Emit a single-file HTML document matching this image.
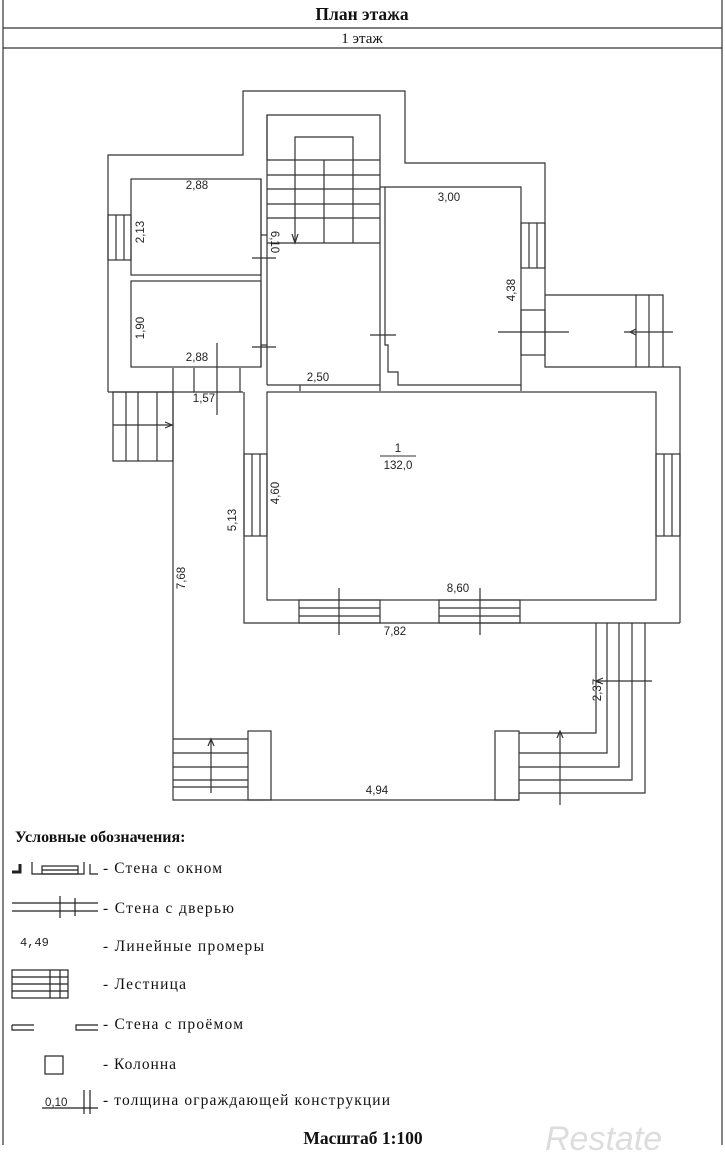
<!DOCTYPE html>
<html><head><meta charset="utf-8"><style>
html,body{margin:0;padding:0;background:#fff}
svg{display:block}
text{font-family:"Liberation Sans",sans-serif;font-size:11.5px;fill:#222}
.s{font-family:"Liberation Serif",serif;font-size:15.5px;fill:#111}
.b{font-weight:bold}
</style></head><body>
<svg width="725" height="1160" viewBox="0 0 725 1160" xmlns="http://www.w3.org/2000/svg">
<g stroke="#333" stroke-width="1.2" fill="none">
<line x1="3" y1="0" x2="3" y2="1145"/><line x1="722" y1="0" x2="722" y2="1145"/>
<line x1="3" y1="28" x2="722" y2="28"/><line x1="3" y1="48" x2="722" y2="48"/>
<polyline points="108,392 108,155 243,155 243,91 405,91 405,163 545,163 545,367 680,367 680,623"/>
<polyline points="545,295 663,295 663,367"/>
<line x1="636" y1="295" x2="636" y2="367"/><line x1="649" y1="295" x2="649" y2="367"/>
<line x1="108" y1="392" x2="243" y2="392"/>
<polyline points="244,392 244,623 596,623"/>
<line x1="596" y1="623" x2="680" y2="623"/>
<rect x="131" y="179" width="130" height="96"/>
<rect x="131" y="281" width="130" height="86"/>
<line x1="267" y1="115" x2="267" y2="385"/>
<line x1="261" y1="179" x2="261" y2="367"/>
<line x1="261" y1="235" x2="267" y2="235"/><line x1="261" y1="345" x2="267" y2="345"/>
<rect x="108" y="215" width="23" height="45"/>
<line x1="116" y1="215" x2="116" y2="260"/><line x1="124" y1="215" x2="124" y2="260"/>
<line x1="252" y1="258" x2="276" y2="258"/>
<line x1="252" y1="347" x2="276" y2="347"/>
<polyline points="267,160 267,115 380,115 380,385"/>
<polyline points="295,243 295,137 353,137 353,243"/>
<line x1="324" y1="160" x2="324" y2="243"/>
<line x1="267" y1="160" x2="380" y2="160"/><line x1="267" y1="175" x2="380" y2="175"/>
<line x1="267" y1="189" x2="380" y2="189"/><line x1="267" y1="204" x2="380" y2="204"/>
<line x1="267" y1="218" x2="380" y2="218"/><line x1="267" y1="243" x2="380" y2="243"/>
<polyline points="292,234 295,243 298,234"/>
<line x1="267" y1="385" x2="380" y2="385"/>
<line x1="300" y1="385" x2="300" y2="391"/>
<polyline points="385,187 521,187 521,385 398,385 398,372 388,372 388,345 385,345 385,187"/>
<line x1="380" y1="187" x2="385" y2="187"/>
<line x1="370" y1="335" x2="396" y2="335"/>
<rect x="521" y="223" width="24" height="45"/>
<line x1="529" y1="223" x2="529" y2="268"/><line x1="537" y1="223" x2="537" y2="268"/>
<rect x="521" y="310" width="24" height="45"/>
<line x1="498" y1="332" x2="569" y2="332"/>
<line x1="624" y1="332" x2="673" y2="332"/>
<polyline points="636,329 630,332 636,335"/>
<line x1="380" y1="385" x2="380" y2="391"/>
<line x1="521" y1="385" x2="521" y2="391"/>
<rect x="267" y="392" width="389" height="208"/>
<rect x="244" y="454" width="23" height="82"/>
<line x1="252" y1="454" x2="252" y2="536"/><line x1="260" y1="454" x2="260" y2="536"/>
<rect x="656" y="454" width="24" height="82"/>
<line x1="664" y1="454" x2="664" y2="536"/><line x1="672" y1="454" x2="672" y2="536"/>
<rect x="299" y="600" width="81" height="23"/>
<line x1="299" y1="608" x2="380" y2="608"/><line x1="299" y1="616" x2="380" y2="616"/>
<rect x="439" y="600" width="81" height="23"/>
<line x1="439" y1="608" x2="520" y2="608"/><line x1="439" y1="616" x2="520" y2="616"/>
<line x1="339" y1="588" x2="339" y2="635"/><line x1="480" y1="588" x2="480" y2="635"/>
<rect x="113" y="392" width="60" height="69"/>
<line x1="126" y1="392" x2="126" y2="461"/><line x1="138" y1="392" x2="138" y2="461"/><line x1="157" y1="392" x2="157" y2="461"/>
<line x1="113" y1="425" x2="173" y2="425"/>
<polyline points="165,422 172,425 165,428"/>
<line x1="173" y1="368" x2="173" y2="392"/><line x1="194" y1="368" x2="194" y2="392"/><line x1="240" y1="368" x2="240" y2="392"/>
<line x1="217" y1="343" x2="217" y2="415"/>
<polyline points="173,392 173,800 519,800"/>
<rect x="248" y="731" width="23" height="69"/>
<rect x="495" y="731" width="24" height="69"/>
<line x1="173" y1="739" x2="248" y2="739"/><line x1="173" y1="753" x2="248" y2="753"/>
<line x1="173" y1="767" x2="248" y2="767"/><line x1="173" y1="780" x2="248" y2="780"/>
<line x1="173" y1="787" x2="248" y2="787"/>
<line x1="211" y1="793" x2="211" y2="739"/><polyline points="208,746 211,739 214,746"/>
<polyline points="519,733 596,733 596,623"/>
<polyline points="519,753 607,753 607,623"/>
<polyline points="519,767 619,767 619,623"/>
<polyline points="519,780 632,780 632,623"/>
<polyline points="519,793 645,793 645,623"/>
<line x1="560" y1="805" x2="560" y2="731"/><polyline points="557,738 560,731 563,738"/>
<line x1="596" y1="681" x2="652" y2="681"/><polyline points="603,678 596,681 603,684"/>
</g>
<text x="362" y="20" text-anchor="middle" class="s b" style="font-size:17.5px">План этажа</text>
<text x="362" y="43" text-anchor="middle" class="s" style="font-size:15px">1 этаж</text>
<text x="197" y="189" text-anchor="middle">2,88</text>
<text x="197" y="361" text-anchor="middle">2,88</text>
<text x="449" y="201" text-anchor="middle">3,00</text>
<text x="318" y="381" text-anchor="middle">2,50</text>
<text x="204" y="402" text-anchor="middle">1,57</text>
<text x="398" y="452" text-anchor="middle">1</text>
<line x1="380" y1="456" x2="416" y2="456" stroke="#333"/>
<text x="398" y="469" text-anchor="middle">132,0</text>
<text x="458" y="592" text-anchor="middle">8,60</text>
<text x="395" y="635" text-anchor="middle">7,82</text>
<text x="377" y="794" text-anchor="middle">4,94</text>
<text transform="translate(144,232) rotate(-90)" text-anchor="middle">2,13</text>
<text transform="translate(144,328) rotate(-90)" text-anchor="middle">1,90</text>
<text transform="translate(271,242) rotate(90)" text-anchor="middle">6,10</text>
<text transform="translate(515,290) rotate(-90)" text-anchor="middle">4,38</text>
<text transform="translate(236,520) rotate(-90)" text-anchor="middle">5,13</text>
<text transform="translate(279,493) rotate(-90)" text-anchor="middle">4,60</text>
<text transform="translate(185,578) rotate(-90)" text-anchor="middle">7,68</text>
<text transform="translate(601,690) rotate(-90)" text-anchor="middle">2,37</text>
<text x="15" y="842" class="s b" style="font-size:16px">Условные обозначения:</text>
<g stroke="#222" stroke-width="1.2" fill="none">
<polyline points="12,872 20,872 20,864" stroke-width="3"/>
<polyline points="32,862 32,874 84,874 84,862"/>
<rect x="42" y="866" width="36" height="8"/><line x1="42" y1="870" x2="78" y2="870"/>
<polyline points="90,864 90,874 98,874"/>
<line x1="12" y1="903" x2="98" y2="903"/><line x1="12" y1="911" x2="98" y2="911"/>
<line x1="60" y1="896" x2="60" y2="918"/><line x1="75" y1="898" x2="75" y2="916"/>
<rect x="12" y="970" width="56" height="28"/>
<line x1="12" y1="977" x2="68" y2="977"/><line x1="12" y1="984" x2="68" y2="984"/><line x1="12" y1="991" x2="68" y2="991"/>
<line x1="50" y1="970" x2="50" y2="998"/><line x1="60" y1="970" x2="60" y2="998"/>
<polyline points="12,1025 12,1030 34,1030"/><line x1="12" y1="1025" x2="34" y2="1025"/>
<polyline points="98,1025 76,1025 76,1030 98,1030"/>
<rect x="45" y="1056" width="18" height="18"/>
<line x1="42" y1="1108" x2="98" y2="1108"/>
<line x1="84" y1="1090" x2="84" y2="1114"/><line x1="90" y1="1090" x2="90" y2="1114"/>
</g>
<text x="20" y="946" style="font-family:'Liberation Mono',monospace;font-size:12px">4,49</text>
<text x="45" y="1106">0,10</text>
<text x="103" y="873" class="s" textLength="119">- Стена с окном</text>
<text x="103" y="913" class="s" textLength="131">- Стена с дверью</text>
<text x="103" y="951" class="s" textLength="161">- Линейные промеры</text>
<text x="103" y="989" class="s" textLength="83">- Лестница</text>
<text x="103" y="1029" class="s" textLength="140">- Стена с проёмом</text>
<text x="103" y="1069" class="s" textLength="73">- Колонна</text>
<text x="103" y="1105" class="s" textLength="287">- толщина ограждающей конструкции</text>
<text x="363" y="1144" text-anchor="middle" class="s b" style="font-size:17.5px">Масштаб 1:100</text>
<text x="545" y="1150" style="font-size:34px;fill:#ddd;font-style:italic">Restate</text>
</svg>
</body></html>
